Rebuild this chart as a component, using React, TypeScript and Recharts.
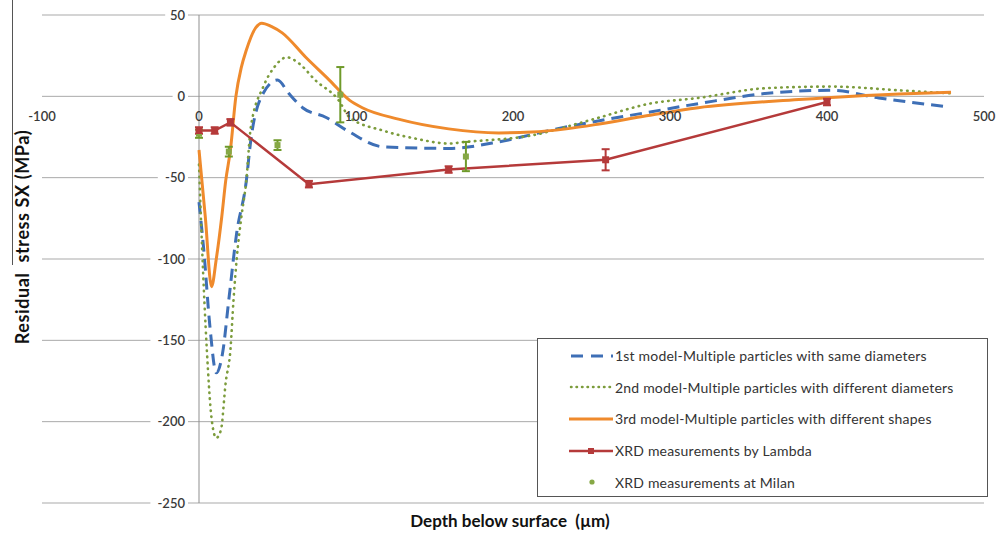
import {
  ComposedChart, Line, Scatter, XAxis, YAxis, CartesianGrid, ReferenceLine, ErrorBar, Legend,
} from 'recharts';

// chart box (page coords)
const W = 998;
const H = 533;
const M = { top: 15, right: 14, bottom: 29, left: 41 };
const PLOT_L = 42;
const PLOT_W = W - PLOT_L - M.right;
const PLOT_H = H - M.top - M.bottom - 1;
const ZERO_X = PLOT_L + PLOT_W * (100 / 600);
const ZERO_Y = M.top + PLOT_H * (50 / 300);

const X_TICKS = [-100, 0, 100, 200, 300, 400, 500];
const Y_TICKS = [-250, -200, -150, -100, -50, 0, 50];

// 1st model - same diameters
const depthM1  = [0, 3, 7, 11, 15, 19, 24, 30, 33, 41, 50, 57, 66, 81, 96, 117, 159, 191, 223, 255, 285, 318, 369, 403, 433, 478];
const stressM1 = [-65, -94, -142, -170, -158, -125, -84, -53, -27, 2, 10, 2, -7, -13, -22, -31, -32, -28, -21, -15, -10, -4.5, 2.5, 3.7, -1, -6.5];

// 2nd model - different diameters
const depthM2  = [0, 2, 5, 8, 11, 14, 17, 20, 22, 24, 27, 30, 33, 41, 48, 56, 64, 74, 89, 96, 117, 138, 159, 170, 212, 244, 255, 287, 318, 361, 403, 446, 479];
const stressM2 = [-42, -94, -156, -198, -210, -205, -176, -156, -125, -100, -74, -53, -19, 6, 18, 24, 20, 10, -2.5, -13, -21, -26, -29, -28, -24, -16, -13, -4.5, -1, 5, 6, 3.7, 1.8];

// 3rd model - different shapes
const depthM3  = [0, 4, 8, 11, 14.5, 17, 20, 23.5, 27, 30, 36, 40, 46, 53, 68, 83, 96, 104, 127, 159, 191, 212, 234, 255, 285, 318, 382, 446, 479];
const stressM3 = [-33, -74, -117, -100, -74, -52, -33, 0, 18, 28, 42, 45, 43, 39, 24, 10, -2.5, -7, -14, -20, -22.5, -22, -20, -17, -12, -7, -2, 1.5, 2.5];

// XRD Lambda
const depthLambda  = [0, 10, 20, 70, 159, 259, 400];
const stressLambda = [-21, -21, -16, -54, -45, -39, -3.5];
const errLambda    = [2, 2, 2, 2, 2, 6.5, 2];

// XRD Milan
const depthMilan  = [0, 19, 50, 90, 170];
const stressMilan = [-23, -34, -30, 1, -37];
const errMilan    = [2.5, 3, 3, 17, 9];

const LABELS = [
  '1st model-Multiple particles with same diameters',
  '2nd model-Multiple particles with different diameters',
  '3rd model-Multiple particles with different shapes',
  'XRD measurements by Lambda',
  'XRD measurements at Milan',
];

const BLUE   = '#3e6fb6';
const GREEN  = '#7c9c3c';
const ORANGE = '#ef8a2c';
const RED    = '#b53a3a';
const MILAN  = '#86a845';
const FONT   = 'Lato, "Open Sans", sans-serif';

const zip = (xs: number[], ys: number[], es?: number[]) =>
  xs.map((x, i) => ({ x, y: ys[i], err: es ? es[i] : 0 }));

const m1 = zip(depthM1, stressM1);
const m2 = zip(depthM2, stressM2);
const m3 = zip(depthM3, stressM3);
const lambda = zip(depthLambda, stressLambda, errLambda);
const milan  = zip(depthMilan, stressMilan, errMilan);

const XTick = (props: any) => {
  const { x, payload } = props;
  return (
    <text x={x} y={ZERO_Y + 25} textAnchor="middle" fontSize={13} fontWeight={600} fill="#3a3a3a" fontFamily={FONT}>
      {payload.value}
    </text>
  );
};

const YTick = (props: any) => {
  const { y, payload } = props;
  const label = String(payload.value);
  const w = label.length * 7.4 + 8;
  return (
    <g>
      <rect x={ZERO_X - 11 - w} y={y - 8} width={w} height={16} fill="#fff" />
      <text x={ZERO_X - 14} y={y + 4.5} textAnchor="end" fontSize={13} fontWeight={600} fill="#3a3a3a" fontFamily={FONT}>
        {label}
      </text>
    </g>
  );
};

const SquareDot = (props: any) => {
  const { cx, cy } = props;
  if (cx == null) return <g />;
  return <rect x={cx - 3.5} y={cy - 3.5} width={7} height={7} fill={RED} />;
};

const MilanDot = (props: any) => {
  const { cx, cy } = props;
  if (cx == null) return <g />;
  return <rect x={cx - 3} y={cy - 3} width={6} height={6} fill={MILAN} />;
};

const sample = (i: number) => {
  switch (i) {
    case 0:
      return <line x1={2} y1={6} x2={44} y2={6} stroke={BLUE} strokeWidth={3} strokeDasharray="12 8" />;
    case 1:
      return <line x1={2} y1={6} x2={44} y2={6} stroke={GREEN} strokeWidth={2.5} strokeDasharray="0.5 5" strokeLinecap="round" />;
    case 2:
      return <line x1={0} y1={6} x2={44} y2={6} stroke={ORANGE} strokeWidth={3} />;
    case 3:
      return (
        <g>
          <line x1={0} y1={6} x2={44} y2={6} stroke={RED} strokeWidth={2.5} />
          <rect x={19} y={3} width={6} height={6} fill={RED} />
        </g>
      );
    default:
      return <circle cx={23} cy={6} r={2.6} fill={MILAN} />;
  }
};

const LegendBox = () => (
  <div style={{ width: 449, height: 157, border: '1px solid #555', background: '#fff', boxSizing: 'content-box', fontFamily: FONT }}>
    {LABELS.map((l, i) => (
      <div key={l} style={{ display: 'flex', alignItems: 'center', height: 31.6, paddingLeft: 31, marginTop: i === 0 ? 1 : 0 }}>
        <svg width={46} height={12}>{sample(i)}</svg>
        <span style={{ fontSize: 14, color: '#333', marginLeft: 0, letterSpacing: 0.2, whiteSpace: 'nowrap' }}>{l}</span>
      </div>
    ))}
  </div>
);

export default function App() {
  return (
    <div style={{ position: 'absolute', left: 0, top: 0, width: W, height: H, background: '#fff' }}>
      <div style={{ position: 'absolute', left: 12, top: 0, width: 1, height: 265, background: '#555' }} />
      <ComposedChart width={W} height={H} margin={M}>
        <CartesianGrid horizontal vertical={false} stroke="#a9a9a9" strokeWidth={1} />
        <XAxis
          dataKey="x" type="number" domain={[-100, 500]} ticks={X_TICKS} height={1}
          axisLine={false} tickLine={false} tick={XTick} interval={0} allowDataOverflow
        />
        <YAxis
          dataKey="y" type="number" domain={[-250, 50]} ticks={Y_TICKS} width={1}
          axisLine={false} tickLine={false} tick={YTick} interval={0} allowDataOverflow
        />
        <ReferenceLine x={0} stroke="#8f8f8f" strokeWidth={1} />
        <Line data={m1} dataKey="y" type="monotone" stroke={BLUE} strokeWidth={3} strokeDasharray="12 7" dot={false} isAnimationActive={false} />
        <Line data={m2} dataKey="y" type="monotone" stroke={GREEN} strokeWidth={2.6} strokeDasharray="0.5 5.5" strokeLinecap="round" dot={false} isAnimationActive={false} />
        <Line data={m3} dataKey="y" type="monotone" stroke={ORANGE} strokeWidth={3} dot={false} isAnimationActive={false} />
        <Line data={lambda} dataKey="y" type="linear" stroke={RED} strokeWidth={2.5} dot={SquareDot} activeDot={false} isAnimationActive={false}>
          <ErrorBar dataKey="err" direction="y" width={4} stroke={RED} strokeWidth={2} />
        </Line>
        <Scatter data={milan} dataKey="y" fill={MILAN} shape={MilanDot} isAnimationActive={false}>
          <ErrorBar dataKey="err" direction="y" width={4} stroke="#6f9a2a" strokeWidth={2} />
        </Scatter>
        <Legend
          layout="vertical" align="center" verticalAlign="middle"
          content={<LegendBox />}
          wrapperStyle={{ left: 537, top: 338, width: 451, height: 159 }}
        />
      </ComposedChart>
      <svg width={W} height={H} style={{ position: 'absolute', left: 0, top: 0, pointerEvents: 'none' }}>
        <text x={22} y={237} transform="rotate(-90 22 237)" textAnchor="middle" dominantBaseline="central"
          fontFamily={FONT} fontWeight={700} fontSize={18} letterSpacing={0.6} fill="#111">
          Residual&#160; stress SX (MPa)
        </text>
        <text x={510} y={527} textAnchor="middle" fontFamily={FONT} fontWeight={700} fontSize={17} fill="#111">
          Depth below surface&#160; (µm)
        </text>
      </svg>
    </div>
  );
}
